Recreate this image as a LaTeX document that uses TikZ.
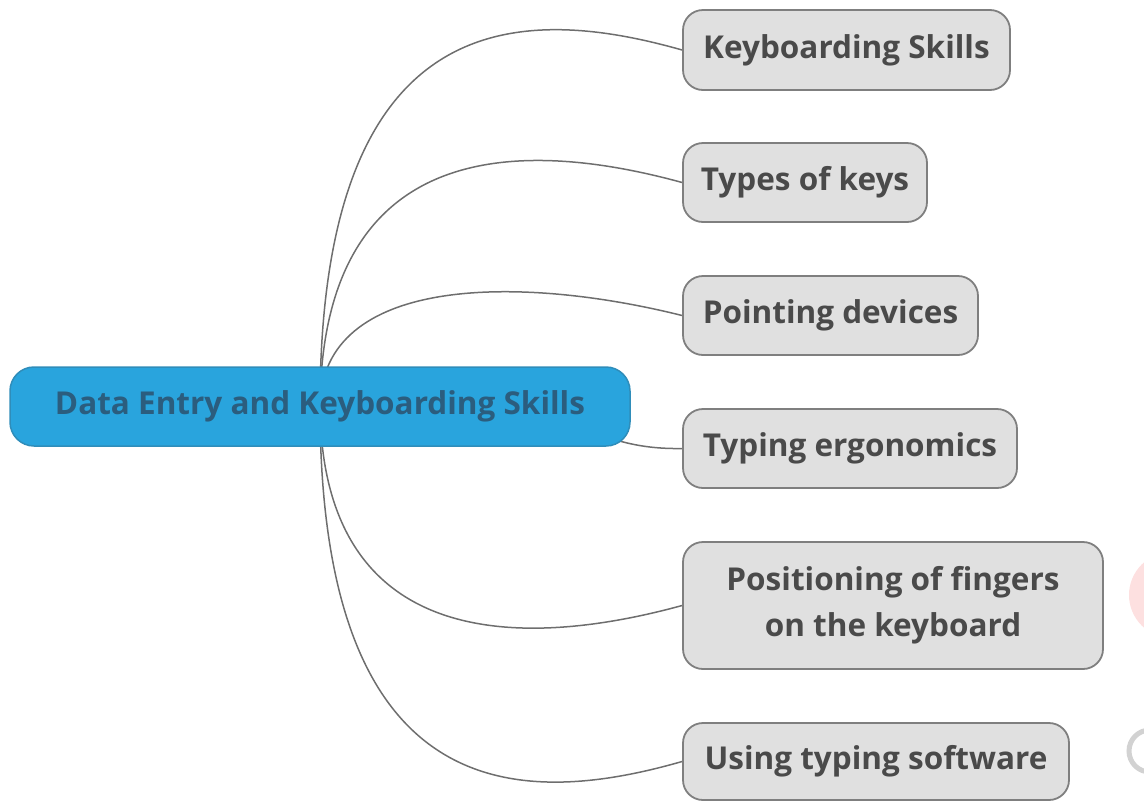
\documentclass[tikz,border=0pt]{standalone}
\usepackage{fontspec}
\setmainfont{Open Sans}
\usetikzlibrary{backgrounds}
\definecolor{cblue}{HTML}{29A4DD}
\definecolor{cblueb}{HTML}{2F8DBA}
\definecolor{cbluet}{HTML}{2B5D7E}
\definecolor{cgray}{HTML}{E0E0E0}
\definecolor{cgrayb}{HTML}{7F7F7F}
\definecolor{ctext}{HTML}{4A4A4A}
\definecolor{cline}{HTML}{6E6E6E}
\definecolor{wpink}{HTML}{FDE0E0}
\definecolor{wgray}{HTML}{D2D2D2}
\tikzset{
  rootbox/.style={rectangle, rounded corners=24pt, fill=cblue, draw=cblueb, line width=1.5pt,
    text=cbluet, font=\fontsize{31.5}{38}\selectfont\bfseries, inner sep=0pt,
    minimum width=620pt, minimum height=79pt},
  childbox/.style={rectangle, rounded corners=20pt, fill=cgray, draw=cgrayb, line width=1.8pt,
    text=ctext, font=\fontsize{31.5}{46}\selectfont\bfseries, inner sep=0pt, align=center,
    minimum height=79pt},
  link/.style={draw=cline, line width=1.5pt}
}
\begin{document}
\begin{tikzpicture}[x=1pt,y=-1pt]
\clip (0,0) rectangle (1144,801);
% watermark fragments
\fill[wpink] (1172,595) circle (43);
\draw[wgray, line width=5pt] (1150,751) circle (21);

\node[rootbox] (root) at (320,406.5) {Data Entry and Keyboarding Skills};
\coordinate (hub) at (320,406);

\node[childbox, minimum width=327pt, minimum height=80pt] (c1) at (846.5,50) {Keyboarding Skills};
\node[childbox, minimum width=244pt] (c2) at (805,182.5) {Types of keys};
\node[childbox, minimum width=295pt] (c3) at (830.5,315.5) {Pointing devices};
\node[childbox, minimum width=334pt] (c4) at (850,448.5) {Typing ergonomics};
\node[childbox, minimum width=420pt, minimum height=127pt] (c5) at (893,605.5) {Positioning of fingers\\on the keyboard};
\node[childbox, minimum width=386pt, minimum height=77pt] (c6) at (876,761.5) {Using typing software};

\begin{scope}[on background layer]
\path[link] (hub) .. controls (320,4) and (520,4) .. (c1.west);
\path[link] (hub) .. controls (322,138) and (520,138) .. (c2.west);
\path[link] (hub) .. controls (322,275) and (520,275) .. (c3.west);
\path[link] (hub) .. controls (600,400) and (580,450) .. (c4.west);
\path[link] (hub) .. controls (322,650) and (520,650) .. (c5.west);
\path[link] (hub) .. controls (320,808) and (520,808) .. (c6.west);
\end{scope}
\end{tikzpicture}
\end{document}
